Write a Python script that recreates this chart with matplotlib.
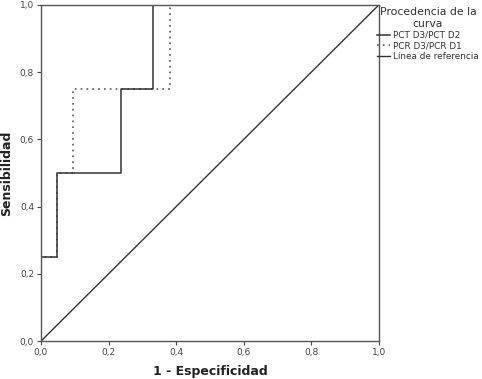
import matplotlib
matplotlib.use("Agg")
import matplotlib.pyplot as plt
from matplotlib.lines import Line2D

pct_x = [0.0, 0.0, 0.048, 0.048, 0.238, 0.238, 0.333, 0.333, 1.0]
pct_y = [0.0, 0.25, 0.25, 0.5, 0.5, 0.75, 0.75, 1.0, 1.0]
pcr_x = [0.0, 0.0, 0.048, 0.048, 0.095, 0.095, 0.381, 0.381, 1.0]
pcr_y = [0.0, 0.25, 0.25, 0.5, 0.5, 0.75, 0.75, 1.0, 1.0]
ref_x = [0.0, 1.0]
ref_y = [0.0, 1.0]
ticks = [0.0, 0.2, 0.4, 0.6, 0.8, 1.0]
tick_labels = ["0,0", "0,2", "0,4", "0,6", "0,8", "1,0"]
labels = ["PCT D3/PCT D2", "PCR D3/PCR D1", "Línea de referencia"]

fig = plt.figure(figsize=(4.82, 3.79), dpi=100)
ax = fig.add_axes([0.085, 0.100, 0.701, 0.887])
c = "#333333"
ax.plot(pcr_x, pcr_y, color="#555555", lw=1.2, linestyle=(0, (1, 2.5)))
ax.plot(pct_x, pct_y, color=c, lw=1.1)
ax.plot(ref_x, ref_y, color=c, lw=1.0)
ax.set_xlim(0, 1)
ax.set_ylim(0, 1)
ax.set_xticks(ticks)
ax.set_xticklabels(tick_labels)
ax.set_yticks(ticks)
ax.set_yticklabels(tick_labels)
ax.tick_params(labelsize=6.5, colors="#444444", length=3, width=0.8, pad=2)
for s in ax.spines.values():
    s.set_color("#555555")
    s.set_linewidth(1.0)
ax.set_xlabel("1 - Especificidad", fontsize=9, fontweight="bold", color="#222222", labelpad=6)
ax.set_ylabel("Sensibilidad", fontsize=9, fontweight="bold", color="#222222")
ax.yaxis.set_label_coords(-0.083, 0.5)

handles = [Line2D([], [], color=c, lw=1.1),
           Line2D([], [], color="#555555", lw=1.2, linestyle=(0, (1, 2.5))),
           Line2D([], [], color=c, lw=1.0)]
leg = fig.legend(handles, labels, loc="upper left", bbox_to_anchor=(0.775, 0.99),
                 frameon=False, fontsize=6.4, title="Procedencia de la\ncurva",
                 title_fontsize=7.8, handlelength=1.5, handletextpad=0.3,
                 labelspacing=0.2, borderaxespad=0.0)
leg.get_title().set_multialignment("center")
leg.get_title().set_color("#333333")
for t in leg.get_texts():
    t.set_color("#333333")
fig.savefig("out.png", dpi=100)
